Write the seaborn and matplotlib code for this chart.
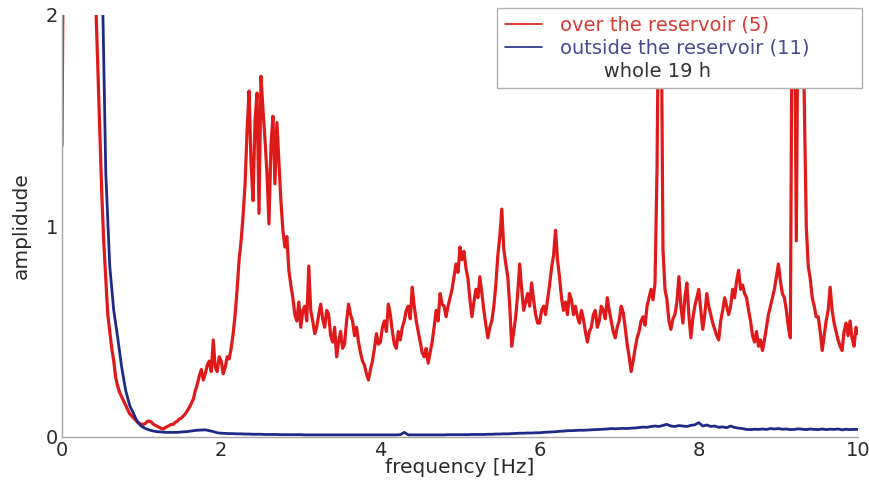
import numpy as np
import pandas as pd
import matplotlib
matplotlib.use("Agg")
import matplotlib.pyplot as plt
import seaborn as sns
from matplotlib.lines import Line2D

# frequency grids (Hz)
freq_over = np.round(np.arange(0, 10.0001, 0.025), 3)
freq_outside = np.round(np.arange(0, 10.0001, 0.05), 2)

# amplitude over the reservoir (5 stations), 0.025 Hz steps, one line = 0.5 Hz
over_reservoir = [
    1.38, 3.0, 3.0, 3.0, 3.0, 3.0, 3.0, 3.0, 3.0, 3.0, 3.0, 3.0, 3.0, 3.0, 3.0, 2.7, 2.4, 2.05, 1.75, 1.45,
    1.15, 0.92, 0.75, 0.58, 0.50, 0.42, 0.36, 0.28, 0.24, 0.21, 0.19, 0.17, 0.15, 0.13, 0.11, 0.10, 0.09, 0.08, 0.07, 0.065,
    0.06, 0.06, 0.065, 0.075, 0.075, 0.07, 0.06, 0.055, 0.05, 0.045, 0.04, 0.038, 0.045, 0.05, 0.055, 0.06, 0.06, 0.07, 0.075, 0.085,
    0.09, 0.10, 0.11, 0.125, 0.14, 0.16, 0.18, 0.22, 0.25, 0.29, 0.32, 0.27, 0.30, 0.34, 0.36, 0.31, 0.46, 0.33, 0.31, 0.38,
    0.36, 0.30, 0.33, 0.38, 0.37, 0.42, 0.49, 0.58, 0.70, 0.84, 0.93, 1.05, 1.20, 1.45, 1.64, 1.30, 1.12, 1.50, 1.63, 1.06,
    1.71, 1.55, 1.41, 1.25, 1.01, 1.38, 1.52, 1.20, 1.49, 1.30, 1.12, 0.98, 0.90, 0.95, 0.79, 0.72, 0.66, 0.58, 0.55, 0.64,
    0.52, 0.60, 0.62, 0.55, 0.81, 0.60, 0.55, 0.49, 0.52, 0.58, 0.63, 0.56, 0.52, 0.60, 0.58, 0.48, 0.45, 0.52, 0.38, 0.45,
    0.50, 0.42, 0.44, 0.55, 0.63, 0.58, 0.55, 0.48, 0.52, 0.45, 0.40, 0.36, 0.34, 0.30, 0.27, 0.32, 0.36, 0.42, 0.49, 0.44,
    0.45, 0.52, 0.55, 0.50, 0.63, 0.58, 0.50, 0.44, 0.42, 0.50, 0.46, 0.52, 0.55, 0.60, 0.62, 0.56, 0.71, 0.62, 0.55, 0.50,
    0.45, 0.40, 0.38, 0.42, 0.35, 0.40, 0.45, 0.52, 0.60, 0.55, 0.68, 0.63, 0.62, 0.57, 0.62, 0.66, 0.70, 0.76, 0.82, 0.78,
    0.90, 0.84, 0.88, 0.80, 0.75, 0.65, 0.57, 0.64, 0.70, 0.66, 0.76, 0.68, 0.60, 0.53, 0.47, 0.52, 0.55, 0.62, 0.72, 0.86,
    0.95, 1.08, 0.89, 0.82, 0.76, 0.62, 0.43, 0.50, 0.57, 0.68, 0.82, 0.70, 0.60, 0.64, 0.68, 0.62, 0.73, 0.65, 0.58, 0.54,
    0.54, 0.60, 0.62, 0.58, 0.65, 0.72, 0.80, 0.86, 0.98, 0.84, 0.76, 0.66, 0.60, 0.64, 0.58, 0.68, 0.65, 0.58, 0.62, 0.57,
    0.54, 0.60, 0.56, 0.50, 0.45, 0.50, 0.52, 0.58, 0.60, 0.52, 0.55, 0.62, 0.60, 0.56, 0.66, 0.60, 0.55, 0.50, 0.47, 0.52,
    0.55, 0.62, 0.59, 0.52, 0.44, 0.38, 0.31, 0.36, 0.42, 0.47, 0.50, 0.55, 0.57, 0.53, 0.62, 0.66, 0.70, 0.65, 0.73, 1.27,
    2.30, 2.20, 0.89, 0.70, 0.65, 0.55, 0.51, 0.56, 0.58, 0.64, 0.76, 0.62, 0.54, 0.66, 0.73, 0.58, 0.47, 0.56, 0.62, 0.66,
    0.70, 0.60, 0.51, 0.58, 0.68, 0.62, 0.58, 0.54, 0.51, 0.48, 0.46, 0.55, 0.60, 0.66, 0.62, 0.58, 0.62, 0.70, 0.66, 0.74,
    0.79, 0.70, 0.72, 0.68, 0.66, 0.60, 0.55, 0.48, 0.45, 0.50, 0.43, 0.46, 0.41, 0.46, 0.52, 0.58, 0.62, 0.66, 0.70, 0.76,
    0.82, 0.74, 0.68, 0.66, 0.60, 0.52, 0.47, 2.30, 2.30, 0.93, 2.30, 2.30, 2.30, 1.60, 1.00, 0.81, 0.75, 0.66, 0.62, 0.57,
    0.57, 0.50, 0.41, 0.48, 0.55, 0.60, 0.71, 0.60, 0.54, 0.50, 0.46, 0.43, 0.41, 0.50, 0.54, 0.48, 0.55, 0.47, 0.43, 0.52,
    0.49,
]

# amplitude outside the reservoir (11 stations), 0.05 Hz steps, one line = 0.5 Hz
outside_reservoir = [
    3.0, 3.0, 3.0, 3.0, 3.0, 3.0, 3.0, 3.0, 3.0, 3.0,
    2.3, 1.25, 0.81, 0.60, 0.47, 0.33, 0.22, 0.15, 0.11, 0.07,
    0.05, 0.04, 0.033, 0.028, 0.025, 0.024, 0.022, 0.022, 0.022, 0.022,
    0.024, 0.025, 0.027, 0.030, 0.032, 0.033, 0.034, 0.030, 0.026, 0.020,
    0.018, 0.017, 0.016, 0.016, 0.015, 0.015, 0.014, 0.014, 0.013, 0.013,
    0.013, 0.012, 0.012, 0.012, 0.012, 0.011, 0.011, 0.011, 0.011, 0.011,
    0.011, 0.010, 0.010, 0.010, 0.010, 0.010, 0.010, 0.010, 0.010, 0.010,
    0.010, 0.010, 0.010, 0.010, 0.010, 0.010, 0.010, 0.010, 0.010, 0.010,
    0.010, 0.010, 0.010, 0.010, 0.010, 0.011, 0.022, 0.010, 0.010, 0.010,
    0.010, 0.010, 0.010, 0.010, 0.010, 0.010, 0.010, 0.011, 0.011, 0.011,
    0.011, 0.011, 0.011, 0.012, 0.012, 0.012, 0.012, 0.013, 0.013, 0.014,
    0.014, 0.015, 0.015, 0.016, 0.017, 0.018, 0.018, 0.019, 0.019, 0.020,
    0.020, 0.022, 0.023, 0.024, 0.025, 0.027, 0.028, 0.030, 0.030, 0.031,
    0.032, 0.032, 0.033, 0.034, 0.035, 0.036, 0.037, 0.038, 0.040, 0.039,
    0.040, 0.041, 0.040, 0.042, 0.043, 0.045, 0.047, 0.046, 0.050, 0.052,
    0.050, 0.055, 0.060, 0.052, 0.050, 0.054, 0.052, 0.050, 0.055, 0.058,
    0.068, 0.052, 0.057, 0.050, 0.052, 0.046, 0.048, 0.044, 0.052, 0.045,
    0.042, 0.040, 0.036, 0.035, 0.037, 0.036, 0.038, 0.036, 0.040, 0.038,
    0.040, 0.037, 0.038, 0.035, 0.036, 0.039, 0.037, 0.035, 0.038, 0.036,
    0.035, 0.038, 0.035, 0.037, 0.036, 0.038, 0.034, 0.037, 0.035, 0.036,
    0.036,
]

assert len(over_reservoir) == len(freq_over), len(over_reservoir)
assert len(outside_reservoir) == len(freq_outside), len(outside_reservoir)

x_ticks = [0, 2, 4, 6, 8, 10]
y_ticks = [0, 1, 2]
labels = ["over the reservoir (5)", "outside the reservoir (11)", "whole 19 h"]

RED = "#e01a1a"
BLUE = "#1f2a88"

sns.set_theme(style="white")
plt.rcParams["font.family"] = ["DejaVu Sans"]

df_over = pd.DataFrame({"freq": freq_over, "amp": over_reservoir})
df_out = pd.DataFrame({"freq": freq_outside, "amp": outside_reservoir})

fig = plt.figure(figsize=(8.70, 4.82), dpi=100)
ax = fig.add_axes([62 / 870, 1 - 437 / 482, (858 - 62) / 870, (437 - 15) / 482])

sns.lineplot(data=df_over, x="freq", y="amp", ax=ax, color=RED, linewidth=2.3,
             estimator=None, sort=False)
sns.lineplot(data=df_out, x="freq", y="amp", ax=ax, color=BLUE, linewidth=2.0,
             estimator=None, sort=False)

ax.set_xlim(0, 10)
ax.set_ylim(0, 2)
ax.set_xticks(x_ticks)
ax.set_yticks(y_ticks)
ax.tick_params(axis="both", direction="in", length=4, width=0.8, color="#999999",
               labelsize=14, labelcolor="#2a2a2a", pad=3)
ax.set_xlabel("frequency [Hz]", fontsize=14.5, color="#2a2a2a")
ax.set_ylabel("amplidude", fontsize=14.5, color="#2a2a2a")
ax.xaxis.set_label_coords(0.5, -(458 - 437) / 422)
ax.yaxis.set_label_coords((31 - 62) / 796, 0.5)

for side in ["top", "right"]:
    ax.spines[side].set_visible(False)
for side in ["left", "bottom"]:
    ax.spines[side].set_color("#a8a8a8")
    ax.spines[side].set_linewidth(1.0)

handles = [Line2D([], [], color=RED, linewidth=1.2),
           Line2D([], [], color=BLUE, linewidth=1.2),
           Line2D([], [], color="none", linewidth=0)]
leg_labels = [labels[0], labels[1], "       " + labels[2]]
leg = ax.legend(handles, leg_labels, loc="upper left", mode="expand",
                bbox_to_anchor=(497 / 870, 1 - 88 / 482, 365 / 870, 80 / 482),
                bbox_transform=fig.transFigure,
                borderaxespad=0, frameon=True, fancybox=False, framealpha=1,
                edgecolor="#b0b0b0", fontsize=14, handlelength=1.9,
                handletextpad=0.93, labelspacing=0.2, borderpad=0.4)
leg.get_frame().set_linewidth(1.0)
for txt, c in zip(leg.get_texts(), ["#d83a34", "#4a4a8e", "#333333"]):
    txt.set_color(c)

fig.savefig("out.png", dpi=100)
